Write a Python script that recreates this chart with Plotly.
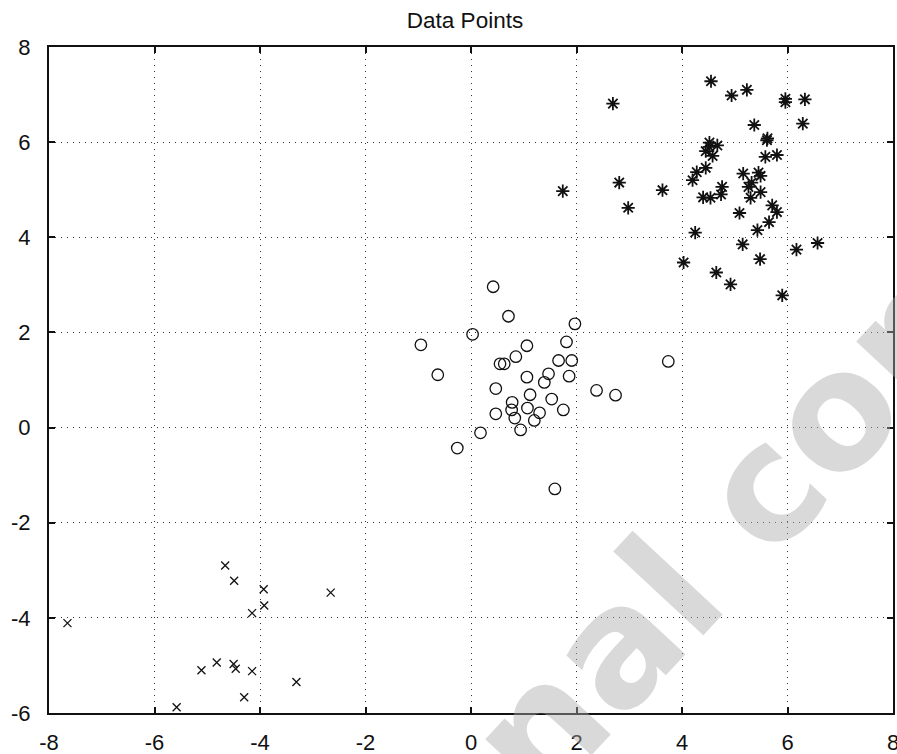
import plotly.graph_objects as go

# Cluster 1: crosses
cross_x = [-7.65, -4.66, -4.49, -3.93, -3.92, -4.15, -2.66, -5.11, -4.82, -4.50, -4.46, -4.15, -4.30, -3.31, -5.58]
cross_y = [-4.11, -2.90, -3.22, -3.40, -3.74, -3.90, -3.47, -5.10, -4.94, -4.97, -5.07, -5.12, -5.67, -5.35, -5.88]

# Cluster 2: circles
circ_x = [0.42, 0.71, 0.03, 1.97, 1.81, 1.06, 0.85, 0.55, 0.63, 1.66, 1.91, 3.74, -0.95, -0.63,
          0.47, 1.06, 1.47, 1.86, 1.39, 2.38, 2.74, 1.12, 0.78, 1.53, 1.07, 0.77, 1.75, 0.47,
          1.30, 0.83, 1.20, 0.94, 0.18, -0.26, 1.59]
circ_y = [2.96, 2.34, 1.96, 2.18, 1.80, 1.72, 1.49, 1.34, 1.34, 1.41, 1.41, 1.39, 1.74, 1.11,
          0.82, 1.06, 1.13, 1.08, 0.95, 0.78, 0.68, 0.69, 0.53, 0.60, 0.41, 0.37, 0.37, 0.29,
          0.31, 0.20, 0.15, -0.05, -0.11, -0.43, -1.29]

# Cluster 3: asterisks
star_x = [4.55, 4.94, 5.23, 5.96, 5.96, 6.33, 6.29, 5.37, 2.69, 5.62, 5.61, 4.52, 4.52, 4.67,
          4.45, 4.58, 5.58, 5.80, 4.45, 4.28, 4.20, 5.16, 5.45, 5.49, 5.32, 4.76, 5.26, 5.49,
          4.74, 4.40, 4.54, 5.30, 2.81, 1.74, 3.63, 2.98, 5.71, 5.80, 5.09, 5.65, 5.43, 4.25,
          5.15, 6.57, 6.17, 4.03, 5.48, 4.65, 4.92, 5.90]
star_y = [7.28, 6.98, 7.10, 6.91, 6.84, 6.90, 6.39, 6.36, 6.81, 6.08, 6.04, 5.99, 5.90, 5.93,
          5.81, 5.71, 5.69, 5.73, 5.46, 5.37, 5.20, 5.34, 5.36, 5.29, 5.15, 5.06, 5.06, 4.95,
          4.90, 4.84, 4.83, 4.83, 5.15, 4.97, 4.99, 4.62, 4.67, 4.53, 4.51, 4.32, 4.15, 4.10,
          3.85, 3.88, 3.74, 3.47, 3.54, 3.26, 3.01, 2.78]

x_ticks = [-8, -6, -4, -2, 0, 2, 4, 6, 8]
y_ticks = [-6, -4, -2, 0, 2, 4, 6, 8]

watermark = "Personal copy"

INK = "#111111"
FONT = "Liberation Sans, Arial, sans-serif"

fig = go.Figure()
fig.add_trace(go.Scatter(x=circ_x, y=circ_y, mode="markers",
                         marker=dict(symbol="circle-open", size=11.5, color=INK, line=dict(width=1.3, color=INK))))
fig.add_trace(go.Scatter(x=star_x, y=star_y, mode="markers",
                         marker=dict(symbol="asterisk-open", size=11, color=INK, line=dict(width=1.8, color=INK))))
fig.add_trace(go.Scatter(x=cross_x, y=cross_y, mode="markers",
                         marker=dict(symbol="x-thin-open", size=8, color=INK, line=dict(width=1.3, color=INK))))

axis_common = dict(
    showgrid=True, gridcolor="#333333", gridwidth=1, griddash="1px,5px",
    zeroline=False, showline=True, linecolor=INK, linewidth=2, mirror="ticks",
    ticks="inside", ticklen=6, tickwidth=1.5, tickcolor=INK,
    tickfont=dict(family=FONT, size=22, color=INK),
    automargin=False, ticklabeloverflow="allow",
)

fig.update_xaxes(range=[-8, 8], tickvals=x_ticks, ticktext=[str(v) for v in x_ticks],
                 ticklabelstandoff=9, **axis_common)
fig.update_yaxes(range=[-6, 8], tickvals=y_ticks, ticktext=[str(v) for v in y_ticks],
                 ticklabelstandoff=12, **axis_common)

fig.update_layout(
    template="none",
    width=897, height=754,
    margin=dict(l=49, r=4, t=47, b=41, autoexpand=False),
    paper_bgcolor="white", plot_bgcolor="white",
    showlegend=False,
    title=dict(text="Data Points", x=465 / 897, xanchor="center", y=1 - 20 / 754, yanchor="middle",
               yref="container", font=dict(family=FONT, size=22.5, color=INK)),
    annotations=[dict(text="<b>" + watermark + "</b>", xref="paper", yref="paper",
                      x=(585 - 49) / 844, y=(713 - 680) / 666, xanchor="center", yanchor="middle",
                      textangle=-47, showarrow=False,
                      font=dict(family="DejaVu Sans, sans-serif", size=162,
                                color="rgba(170,170,170,0.45)"))],
)

fig.write_html("out.html", config={"displayModeBar": False},
               post_script="document.body.style.margin='0';document.body.style.overflow='hidden';")
